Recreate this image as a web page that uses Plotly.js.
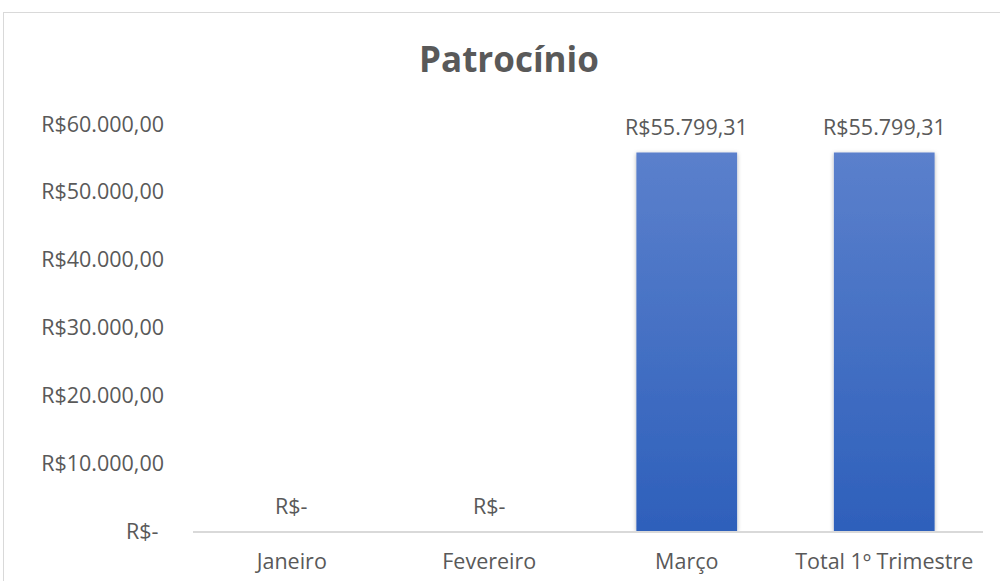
<!DOCTYPE html>
<html><head><meta charset="utf-8">
<script src="https://cdn.plot.ly/plotly-3.0.1.min.js"></script>
<style>
html,body{margin:0;padding:0;background:#fff;overflow:hidden;}
#wrap{position:relative;width:1000px;height:581px;}
#chart{position:absolute;left:0;top:0;width:1000px;height:581px;}
#frame{position:absolute;left:3px;top:12px;width:1010px;height:600px;border:1px solid #D9D9D9;pointer-events:none;}
</style></head>
<body>
<div id="wrap"><div id="chart"></div><div id="frame"></div></div>
<script>
const categories = ["Janeiro", "Fevereiro", "Março", "Total 1º Trimestre"];
const values = [0, 0, 55799.31, 55799.31];
const tickValues = [0, 10000, 20000, 30000, 40000, 50000, 60000];
const tickLabels = ["R$-\u00A0", "R$10.000,00", "R$20.000,00", "R$30.000,00", "R$40.000,00", "R$50.000,00", "R$60.000,00"];
const valueLabels = ["R$-", "R$-", "R$55.799,31", "R$55.799,31"];

const FONT = "Open Sans, Noto Sans, sans-serif";
const TXT = "#595959";
const FS = 21.5;

const trace = {
  type: "bar",
  x: categories,
  y: values,
  width: 0.51,
  marker: {color: "#4472C4", line: {width: 0}},
  hoverinfo: "none"
};

const annotations = categories.map((c, i) => ({
  x: c, y: values[i], xref: "x", yref: "y",
  text: valueLabels[i], showarrow: false,
  yanchor: "middle", yshift: 26,
  font: {family: FONT, size: FS, color: TXT}
}));

const layout = {
  width: 1000, height: 581,
  margin: {l: 193, r: 17, t: 124, b: 50},
  paper_bgcolor: "rgba(0,0,0,0)",
  plot_bgcolor: "rgba(0,0,0,0)",
  showlegend: false,
  bargap: 0.49,
  title: {
    text: "<b>Patrocínio</b>",
    font: {family: FONT, size: 35, color: TXT},
    xref: "container", yref: "container",
    x: 0.509, y: 1 - 60/581, xanchor: "center", yanchor: "middle"
  },
  xaxis: {
    type: "category",
    showline: true, linecolor: "#D9D9D9", linewidth: 2,
    showgrid: false, zeroline: false, ticks: "",
    ticklabelstandoff: 10,
    tickfont: {family: FONT, size: FS, color: TXT}
  },
  yaxis: {
    range: [0, 60000],
    tickvals: tickValues, ticktext: tickLabels,
    showgrid: false, zeroline: false, showline: false, ticks: "",
    ticklabelstandoff: 28,
    tickfont: {family: FONT, size: FS, color: TXT}
  },
  annotations: annotations
};

Plotly.newPlot("chart", [trace], layout, {staticPlot: true, displayModeBar: false}).then(gd => {
  const svg = gd.querySelector("svg.main-svg");
  const ns = "http://www.w3.org/2000/svg";
  let defs = svg.querySelector("defs");
  if (!defs) { defs = document.createElementNS(ns, "defs"); svg.insertBefore(defs, svg.firstChild); }
  const lg = document.createElementNS(ns, "linearGradient");
  lg.setAttribute("id", "barGrad"); lg.setAttribute("x1", "0"); lg.setAttribute("y1", "0");
  lg.setAttribute("x2", "0"); lg.setAttribute("y2", "1");
  [["0", "#5B80CC"], ["1", "#2E60BB"]].forEach(([o, c]) => {
    const s = document.createElementNS(ns, "stop");
    s.setAttribute("offset", o); s.setAttribute("stop-color", c); lg.appendChild(s);
  });
  defs.appendChild(lg);
  const f = document.createElementNS(ns, "filter");
  f.setAttribute("id", "barShadow"); f.setAttribute("x", "-20%"); f.setAttribute("y", "-20%");
  f.setAttribute("width", "140%"); f.setAttribute("height", "140%");
  const ds = document.createElementNS(ns, "feDropShadow");
  ds.setAttribute("dx", "0"); ds.setAttribute("dy", "1"); ds.setAttribute("stdDeviation", "2");
  ds.setAttribute("flood-color", "#000"); ds.setAttribute("flood-opacity", "0.3");
  f.appendChild(ds); defs.appendChild(f);
  gd.querySelectorAll(".trace.bars .point path").forEach(p => {
    p.style.fill = "url(#barGrad)";
    p.setAttribute("filter", "url(#barShadow)");
  });
});
</script>
</body></html>
